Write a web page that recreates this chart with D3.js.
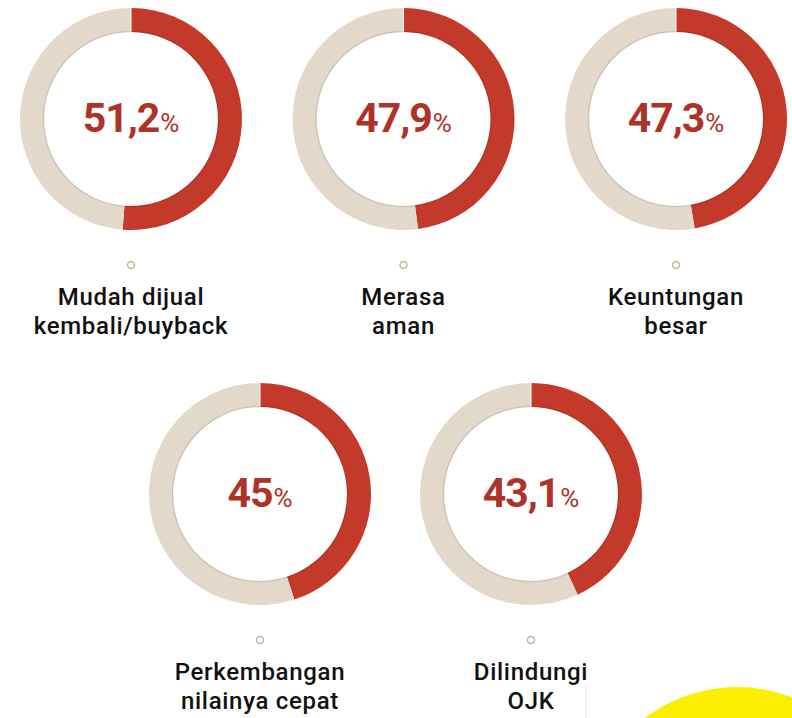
<!DOCTYPE html>
<html>
<head>
<meta charset="utf-8">
<script src="https://cdn.jsdelivr.net/npm/d3@7"></script>
<style>
  html, body { margin: 0; padding: 0; background: #fff; }
  svg { display: block; }
</style>
</head>
<body>
<svg id="svg"></svg>
<script>
// alasan memilih produk investasi (persen responden)
const labels = [
  ["Mudah dijual", "kembali/buyback"],
  ["Merasa", "aman"],
  ["Keuntungan", "besar"],
  ["Perkembangan", "nilainya cepat"],
  ["Dilindungi", "OJK"]
];
const values = [51.2, 47.9, 47.3, 45, 43.1];
const valueText = ["51,2", "47,9", "47,3", "45", "43,1"];

const width = 792, height = 718;
const outerR = 111, innerR = 87;
const red = "#c3392a", beige = "#e2d9ca", textRed = "#ad3328";

const svg = d3.select("#svg")
    .attr("width", width)
    .attr("height", height)
    .attr("viewBox", [0, 0, width, height]);

// yellow blob bottom right
svg.append("circle")
    .attr("cx", 737).attr("cy", 839).attr("r", 152)
    .attr("fill", "#fbef00");

// faint divider
svg.append("line")
    .attr("x1", 585.5).attr("x2", 585.5).attr("y1", 684).attr("y2", height)
    .attr("stroke", "#e8e8e8").attr("stroke-width", 1);

// position of each donut
const topX = d3.scalePoint().domain([0, 1, 2]).range([131, 676]);
const botX = d3.scalePoint().domain([3, 4]).range([260, 531]);
const pos = i => i < 3 ? [topX(i), 119] : [botX(i), 494];

const arc = d3.arc().innerRadius(innerR).outerRadius(outerR);
const pie = d3.pie().sort(null).value(d => d);

const g = svg.selectAll("g.donut")
  .data(values)
  .join("g")
    .attr("class", "donut")
    .attr("transform", (d, i) => `translate(${pos(i)})`);

g.selectAll("path")
  .data(d => pie([d, 100 - d]))
  .join("path")
    .attr("fill", (d, i) => i === 0 ? red : beige)
    .attr("d", arc);

// subtle inner shade
g.append("circle")
    .attr("r", innerR + 0.5)
    .attr("fill", "none")
    .attr("stroke", "rgba(0,0,0,0.10)")
    .attr("stroke-width", 1.5);

// thin gap at 12 o'clock
g.append("line")
    .attr("x1", 0).attr("x2", 0)
    .attr("y1", -outerR - 1).attr("y2", -innerR + 1)
    .attr("stroke", "#fff").attr("stroke-width", 1);

const num = g.append("text")
    .attr("y", 13)
    .attr("text-anchor", "middle")
    .attr("font-family", "Roboto, sans-serif")
    .attr("fill", textRed);
num.append("tspan")
    .attr("font-size", 41)
    .attr("font-weight", 700)
    .attr("letter-spacing", -1)
    .text((d, i) => valueText[i]);
num.append("tspan")
    .attr("font-size", 26)
    .attr("font-weight", 400)
    .attr("dx", 1)
    .text("%");

// marker
g.append("circle")
    .attr("cy", 146)
    .attr("r", 3.5)
    .attr("fill", "#fff")
    .attr("stroke", "#c6b497")
    .attr("stroke-width", 1.5);

const lab = g.append("text")
    .attr("text-anchor", "middle")
    .attr("font-family", "Roboto, sans-serif")
    .attr("font-weight", 500)
    .attr("font-size", 24)
    .attr("letter-spacing", 0.7)
    .attr("fill", "#111");
lab.selectAll("tspan")
  .data((d, i) => labels[i])
  .join("tspan")
    .attr("x", 0)
    .attr("y", (d, j) => 186 + j * 28.5)
    .text(d => d);
</script>
</body>
</html>
